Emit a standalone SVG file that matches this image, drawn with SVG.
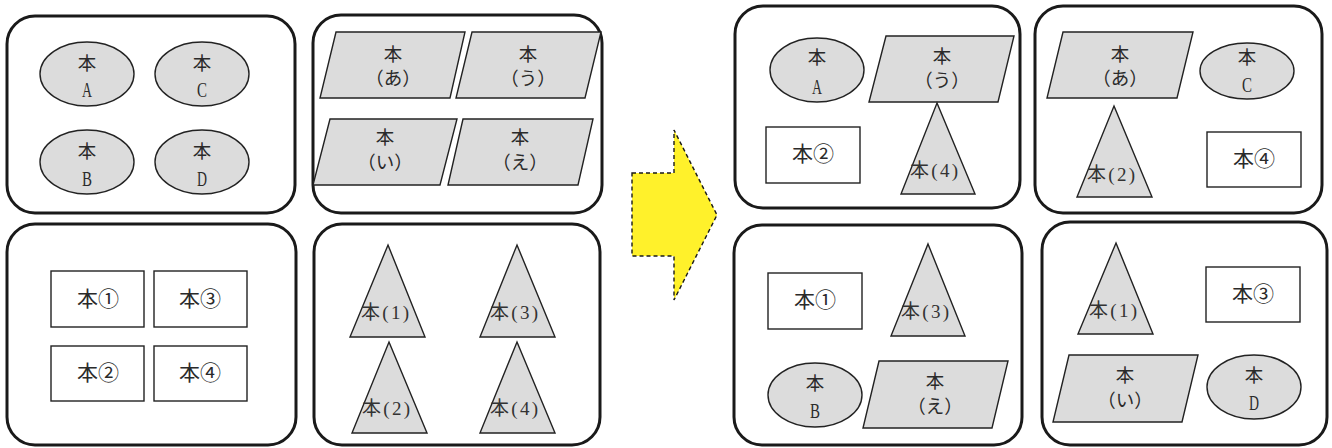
<svg xmlns="http://www.w3.org/2000/svg" width="1332" height="448" viewBox="0 0 1332 448">
  <style>
    .panel { fill: #ffffff; stroke: #1a1a1a; stroke-width: 3; }
    .shape { fill: #dcdcdc; stroke: #222222; stroke-width: 1.4; }
    .box { fill: #ffffff; stroke: #222222; stroke-width: 1.4; }
    .t { font-family: "Liberation Serif", "Noto Sans CJK JP", serif; fill: #2a2a2a; text-anchor: middle; dominant-baseline: central; }
    .k { font-size: 18.5px; }
    .l { font-size: 20px; }
    .r { font-size: 21px; }
    .tri { font-size: 19px; fill: #333333; }
    .arrow { fill: #fff12b; stroke: #1a1a1a; stroke-width: 1.4; stroke-dasharray: 4 3; }
  </style>

  <rect width="1332" height="448" fill="#ffffff"/>

  <!-- Group 1: ellipses A-D -->
  <g id="group-ellipses">
    <rect class="panel" x="7" y="16" width="288" height="197" rx="28"/>
    <g id="ellipse-a">
      <ellipse class="shape" cx="87" cy="74" rx="47" ry="32"/>
      <text class="t k" x="87" y="64">本</text>
      <text class="t l" x="87" y="90" textLength="10" lengthAdjust="spacingAndGlyphs">A</text>
    </g>
    <g id="ellipse-c">
      <ellipse class="shape" cx="202" cy="74" rx="47" ry="32"/>
      <text class="t k" x="202" y="64">本</text>
      <text class="t l" x="202" y="90" textLength="10" lengthAdjust="spacingAndGlyphs">C</text>
    </g>
    <g id="ellipse-b">
      <ellipse class="shape" cx="87" cy="162" rx="47" ry="32"/>
      <text class="t k" x="87" y="152">本</text>
      <text class="t l" x="87" y="179" textLength="10" lengthAdjust="spacingAndGlyphs">B</text>
    </g>
    <g id="ellipse-d">
      <ellipse class="shape" cx="202" cy="162" rx="47" ry="32"/>
      <text class="t k" x="202" y="152">本</text>
      <text class="t l" x="202" y="179" textLength="10" lengthAdjust="spacingAndGlyphs">D</text>
    </g>
  </g>

  <!-- Group 2: parallelograms あ-え -->
  <g id="group-parallelograms">
    <rect class="panel" x="313" y="15" width="289" height="198" rx="28"/>
    <g id="para-a">
      <polygon class="shape" points="336,32 465,32 450,98 320,98"/>
      <text class="t k" x="393" y="55">本</text>
      <text class="t k" x="393" y="79">（あ）</text>
    </g>
    <g id="para-u">
      <polygon class="shape" points="472,32 601,32 585,98 456,98"/>
      <text class="t k" x="528" y="55">本</text>
      <text class="t k" x="528" y="79">（う）</text>
    </g>
    <g id="para-i">
      <polygon class="shape" points="330,119 457,119 440,185 313,185"/>
      <text class="t k" x="385" y="138">本</text>
      <text class="t k" x="385" y="163">（い）</text>
    </g>
    <g id="para-e">
      <polygon class="shape" points="463,119 593,119 578,185 448,185"/>
      <text class="t k" x="520" y="138">本</text>
      <text class="t k" x="520" y="163">（え）</text>
    </g>
  </g>

  <!-- Group 3: rectangles ①-④ -->
  <g id="group-rectangles">
    <rect class="panel" x="7" y="224" width="289" height="221" rx="28"/>
    <g id="rect-1">
      <rect class="box" x="51" y="271" width="93" height="56"/>
      <text class="t r" x="98" y="299">本①</text>
    </g>
    <g id="rect-3">
      <rect class="box" x="154" y="271" width="93" height="56"/>
      <text class="t r" x="200" y="299">本③</text>
    </g>
    <g id="rect-2">
      <rect class="box" x="51" y="346" width="93" height="55"/>
      <text class="t r" x="98" y="373">本②</text>
    </g>
    <g id="rect-4">
      <rect class="box" x="154" y="346" width="93" height="55"/>
      <text class="t r" x="200" y="373">本④</text>
    </g>
  </g>

  <!-- Group 4: triangles (1)-(4) -->
  <g id="group-triangles">
    <rect class="panel" x="314" y="224" width="286" height="221" rx="28"/>
    <g id="tri-1">
      <polygon class="shape" points="388,245 425,337 350,337"/>
      <text class="t tri" x="385" y="312" textLength="48">本(1)</text>
    </g>
    <g id="tri-3">
      <polygon class="shape" points="517,245 555,337 480,337"/>
      <text class="t tri" x="514" y="312" textLength="48">本(3)</text>
    </g>
    <g id="tri-2">
      <polygon class="shape" points="389,342 427,433 352,433"/>
      <text class="t tri" x="386" y="408" textLength="48">本(2)</text>
    </g>
    <g id="tri-4">
      <polygon class="shape" points="517,342 555,433 480,433"/>
      <text class="t tri" x="514" y="408" textLength="48">本(4)</text>
    </g>
  </g>

  <!-- Arrow between the two halves -->
  <g id="connectors">
    <polygon class="arrow" points="632,173 674,173 674,130 717,215 674,300 674,256 632,256"/>
  </g>

  <!-- Mixed group 1 -->
  <g id="mixed-1">
    <rect class="panel" x="735" y="6" width="285" height="202" rx="28"/>
    <g id="m1-ellipse-a">
      <ellipse class="shape" cx="817" cy="70" rx="47" ry="32"/>
      <text class="t k" x="817" y="58">本</text>
      <text class="t l" x="817" y="87" textLength="10" lengthAdjust="spacingAndGlyphs">A</text>
    </g>
    <g id="m1-para-u">
      <polygon class="shape" points="886,36 1014,36 998,102 869,102"/>
      <text class="t k" x="942" y="57">本</text>
      <text class="t k" x="942" y="81">（う）</text>
    </g>
    <g id="m1-rect-2">
      <rect class="box" x="766" y="127" width="94" height="56"/>
      <text class="t r" x="813" y="154">本②</text>
    </g>
    <g id="m1-tri-4">
      <polygon class="shape" points="937,103 975,194 901,194"/>
      <text class="t tri" x="934" y="170" textLength="48">本(4)</text>
    </g>
  </g>

  <!-- Mixed group 2 -->
  <g id="mixed-2">
    <rect class="panel" x="1035" y="6" width="287" height="207" rx="28"/>
    <g id="m2-para-a">
      <polygon class="shape" points="1063,32 1193,32 1177,98 1047,98"/>
      <text class="t k" x="1120" y="55">本</text>
      <text class="t k" x="1120" y="79">（あ）</text>
    </g>
    <g id="m2-ellipse-c">
      <ellipse class="shape" cx="1247" cy="71" rx="47" ry="28"/>
      <text class="t k" x="1247" y="58">本</text>
      <text class="t l" x="1247" y="85" textLength="10" lengthAdjust="spacingAndGlyphs">C</text>
    </g>
    <g id="m2-tri-2">
      <polygon class="shape" points="1114,106 1152,197 1077,197"/>
      <text class="t tri" x="1111" y="174" textLength="48">本(2)</text>
    </g>
    <g id="m2-rect-4">
      <rect class="box" x="1207" y="132" width="94" height="55"/>
      <text class="t r" x="1254" y="159">本④</text>
    </g>
  </g>

  <!-- Mixed group 3 -->
  <g id="mixed-3">
    <rect class="panel" x="734" y="225" width="288" height="220" rx="28"/>
    <g id="m3-rect-1">
      <rect class="box" x="768" y="273" width="94" height="56"/>
      <text class="t r" x="815" y="300">本①</text>
    </g>
    <g id="m3-tri-3">
      <polygon class="shape" points="928,244 965,336 891,336"/>
      <text class="t tri" x="925" y="311" textLength="48">本(3)</text>
    </g>
    <g id="m3-ellipse-b">
      <ellipse class="shape" cx="815" cy="395" rx="47" ry="32"/>
      <text class="t k" x="815" y="384">本</text>
      <text class="t l" x="815" y="411" textLength="10" lengthAdjust="spacingAndGlyphs">B</text>
    </g>
    <g id="m3-para-e">
      <polygon class="shape" points="879,361 1008,361 992,428 863,428"/>
      <text class="t k" x="935" y="382">本</text>
      <text class="t k" x="935" y="407">（え）</text>
    </g>
  </g>

  <!-- Mixed group 4 -->
  <g id="mixed-4">
    <rect class="panel" x="1042" y="222" width="285" height="223" rx="28"/>
    <g id="m4-tri-1">
      <polygon class="shape" points="1116,243 1153,334 1078,334"/>
      <text class="t tri" x="1113" y="310" textLength="48">本(1)</text>
    </g>
    <g id="m4-rect-3">
      <rect class="box" x="1206" y="267" width="94" height="55"/>
      <text class="t r" x="1253" y="294">本③</text>
    </g>
    <g id="m4-para-i">
      <polygon class="shape" points="1069,355 1198,355 1182,422 1053,422"/>
      <text class="t k" x="1125" y="376">本</text>
      <text class="t k" x="1125" y="401">（い）</text>
    </g>
    <g id="m4-ellipse-d">
      <ellipse class="shape" cx="1254" cy="387" rx="47" ry="32"/>
      <text class="t k" x="1254" y="376">本</text>
      <text class="t l" x="1254" y="403" textLength="10" lengthAdjust="spacingAndGlyphs">D</text>
    </g>
  </g>
</svg>
